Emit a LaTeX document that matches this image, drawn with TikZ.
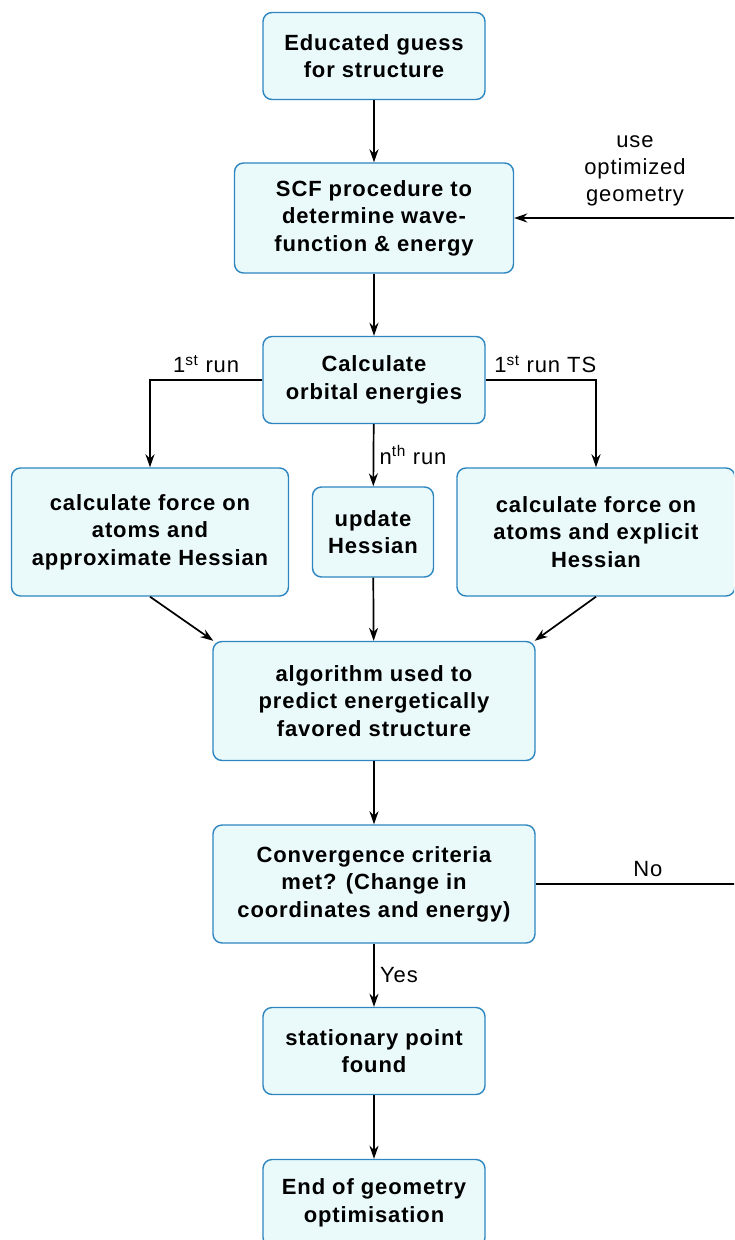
\documentclass[tikz,border=0pt]{standalone}
\usepackage{fontspec}
\setmainfont{Liberation Sans}[LetterSpace=4]
\usetikzlibrary{arrows.meta}
\definecolor{boxfill}{HTML}{EAF9FA}
\definecolor{boxline}{HTML}{2E86C1}
\tikzset{
	stepbox/.style={draw=boxline, fill=boxfill, line width=1.4pt, rounded corners=9pt,
		align=center, font=\fontsize{22}{27.5}\selectfont\bfseries, inner sep=0pt},
	flow/.style={-{Stealth[length=13pt, width=9pt]}, line width=1.7pt},
	lbl/.style={font=\fontsize{22}{27}\selectfont, align=center}
}
\begin{document}
\begin{tikzpicture}[x=1pt, y=-1pt]
		\clip (0,0) rectangle (734,1240);
		\fill[white] (0,0) rectangle (734,1240);

		% boxes
		\node[stepbox, minimum width=222, minimum height=87] (guess) at (374,56) {Educated guess\\for structure};
		\node[stepbox, minimum width=279, minimum height=110] (scf) at (374,218) {SCF procedure to\\determine wave-\\function \& energy};
		\node[stepbox, minimum width=222, minimum height=87] (orb) at (374,380) {Calculate\\orbital energies};
		\node[stepbox, minimum width=277, minimum height=128] (approx) at (150,532) {calculate force on\\atoms and\\approximate Hessian};
		\node[stepbox, minimum width=121, minimum height=90] (upd) at (373,532) {update\\Hessian};
		\node[stepbox, minimum width=278, minimum height=128] (expl) at (596,532) {calculate force on\\atoms and explicit\\Hessian};
		\node[stepbox, minimum width=322, minimum height=119] (algo) at (374,701) {algorithm used to\\predict energetically\\favored structure};
		\node[stepbox, minimum width=322, minimum height=118] (conv) at (374,884) {Convergence criteria\\met? (Change in\\coordinates and energy)};
		\node[stepbox, minimum width=222, minimum height=87] (stat) at (374,1051) {stationary point\\found};
		\node[stepbox, minimum width=222, minimum height=87] (fin) at (374,1203) {End of geometry\\optimisation};

		\coordinate (loop) at (760,884);

		% connectors
		\draw[flow] (guess) -- (scf);
		\draw[flow] (scf) -- (orb);
		\draw[flow] (orb.west) -| (approx.north) node[pos=0.25, above, lbl, yshift=3] {1\textsuperscript{st} run};
		\draw[flow] (orb.east) -| (expl.north) node[pos=0.27, above, lbl, yshift=3] {1\textsuperscript{st} run TS};
		\draw[flow] (orb) -- (upd) node[midway, right, lbl, xshift=2] {n\textsuperscript{th} run};
		\draw[flow] (approx.south) -- ([xshift=1]algo.north west);
		\draw[flow] (upd) -- (algo);
		\draw[flow] (expl.south) -- ([xshift=-1]algo.north east);
		\draw[flow] (algo) -- (conv);
		\draw[flow] (conv) -- (stat) node[midway, right, lbl, xshift=2] {Yes};
		\draw[flow] (stat) -- (fin);
		\draw[flow] (conv.east) -- (loop) node[pos=0.5, above, lbl, yshift=3] {No}
			|- (scf.east);
		\node[lbl] at (635,171) {use\\optimized\\geometry};
	\end{tikzpicture}
\end{document}
